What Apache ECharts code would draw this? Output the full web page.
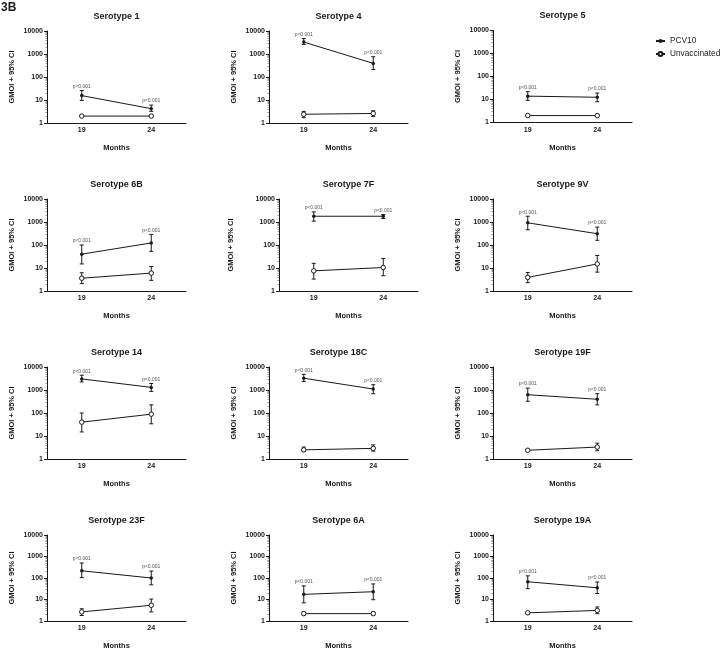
<!DOCTYPE html>
<html><head><meta charset="utf-8">
<script src="https://cdn.jsdelivr.net/npm/echarts@6/dist/echarts.min.js"></script>
<style>html,body{margin:0;padding:0;background:#fff}#c{width:720px;height:651px}</style>
</head><body><div id="c"></div>
<script>
// ---- data ----
const months = ['19', '24'];
const serotypes = ['Serotype 1','Serotype 4','Serotype 5','Serotype 6B','Serotype 7F','Serotype 9V',
  'Serotype 14','Serotype 18C','Serotype 19F','Serotype 23F','Serotype 6A','Serotype 19A'];
const seriesNames = ['PCV10', 'Unvaccinated'];
const pcv10Gmoi = [[15.5,4.2],[3300,390],[14,12.5],[40,123],[1780,1780],[920,310],
  [3030,1300],[3250,1100],[625,395],[217,100],[17.4,23],[67,35]];
const pcv10Low = [[9.6,3.2],[2600,210],[9.2,8],[15,53],[1090,1420],[460,160],
  [2250,870],[2350,690],[323,225],[104,48],[7,9.8],[32,19]];
const pcv10High = [[26,6],[4700,760],[22,19],[100,290],[2750,2100],[1780,600],
  [4400,1920],[4800,1700],[1210,690],[500,210],[43,53],[126,65]];
const unvGmoi = [[2,2],[2.4,2.6],[2,2],[3.6,6],[7.5,10.5],[3.9,15],
  [40,89],[2.5,2.9],[2.4,3.3],[2.65,5.4],[2.2,2.2],[2.4,3.1]];
const unvLow = [[1.9,1.9],[1.7,1.9],[1.9,1.9],[2.1,2.9],[3.3,4.6],[2.3,6.6],
  [15,34],[2.1,2.2],[2.2,2.3],[1.8,2.65],[1.9,1.9],[2.1,2.2]];
const unvHigh = [[2.1,2.1],[3.2,3.4],[2.1,2.1],[6.2,11.6],[16,26],[6.4,35],
  [100,225],[3.3,4.1],[2.6,4.9],[3.7,10.5],[2.6,2.6],[2.7,4.5]];
const pLabels = months.map(() => 'p<0.001');
const yTickLabels = [1, 10, 100, 1000, 10000];
const minorTickValues = [];
for (let d = 1; d < 10000; d *= 10) for (let k = 2; k <= 9; k++) minorTickValues.push(k * d);

// ---- layout ----
const colLeft = [47, 269, 493];
const rowTop = [31, 199, 367, 535];
const gridW = 139, gridH = 92;
const FONT = 'Liberation Sans';
const INK = '#1a1a1a';

const grids = [], xAxes = [], yAxes = [], series = [], graphics = [];
serotypes.forEach((name, i) => {
  const r = Math.floor(i / 3), c = i % 3;
  const left = (i === 4) ? 279 : colLeft[c];
  const top = rowTop[r] + (i === 2 ? -0.5 : 0);
  grids.push({left, top, width: gridW, height: gridH});
  graphics.push({type: 'text', x: left + gridW / 2, y: top - 19,
    style: {text: name, font: 'bold 9px ' + FONT, fill: INK, align: 'center', verticalAlign: 'top'}});
  xAxes.push({type: 'category', gridIndex: i, data: months, boundaryGap: true,
    axisLine: {lineStyle: {color: INK, width: 1}},
    axisTick: {alignWithLabel: true, length: 3, lineStyle: {color: INK}},
    axisLabel: {fontSize: 7, fontWeight: 'bold', color: INK, margin: 4, fontFamily: FONT},
    name: 'Months', nameLocation: 'middle', nameGap: 21,
    nameTextStyle: {fontSize: 7.5, fontWeight: 'bold', color: INK, fontFamily: FONT}});
  yAxes.push({type: 'log', logBase: 10, gridIndex: i, min: 1, max: 10000, position: 'left',
    axisLine: {show: true, lineStyle: {color: INK, width: 1}},
    axisTick: {show: true, length: 3, lineStyle: {color: INK}, customValues: yTickLabels},
    axisLabel: {fontSize: 7, fontWeight: 'bold', color: INK, margin: 4, fontFamily: FONT,
      customValues: yTickLabels, formatter: v => String(Math.round(v))},
    splitLine: {show: false},
    name: 'GMOI + 95% CI', nameLocation: 'middle', nameGap: (i === 4 ? 44 : 31),
    nameTextStyle: {fontSize: 7.5, fontWeight: 'bold', color: INK, fontFamily: FONT}});
  yAxes.push({type: 'log', logBase: 10, gridIndex: i, min: 1, max: 10000, position: 'left', offset: 0,
    axisLine: {show: false},
    axisTick: {show: true, length: 1.5, lineStyle: {color: '#555', width: 0.6}, customValues: minorTickValues},
    axisLabel: {show: false}, splitLine: {show: false}});

  const mkErr = (low, high, withLabel) => ({
    type: 'custom', xAxisIndex: i, yAxisIndex: 2 * i, z: 2, silent: true,
    data: months.map((m, k) => [k, low[i][k], high[i][k]]),
    renderItem: (params, api) => {
      const x = api.value(0);
      const lo = api.coord([x, api.value(1)]);
      const hi = api.coord([x, api.value(2)]);
      const cap = 2;
      const st = {stroke: INK, lineWidth: 1};
      const children = [
        {type: 'line', shape: {x1: lo[0], y1: lo[1], x2: hi[0], y2: hi[1]}, style: st},
        {type: 'line', shape: {x1: lo[0] - cap, y1: lo[1], x2: lo[0] + cap, y2: lo[1]}, style: st},
        {type: 'line', shape: {x1: hi[0] - cap, y1: hi[1], x2: hi[0] + cap, y2: hi[1]}, style: st}
      ];
      if (withLabel) children.push({type: 'text', x: hi[0], y: hi[1] - 1.5,
        style: {text: pLabels[params.dataIndex], font: '5px ' + FONT, fill: '#555', align: 'center', verticalAlign: 'bottom'}});
      return {type: 'group', children};
    }
  });
  series.push(mkErr(pcv10Low, pcv10High, true));
  series.push(mkErr(unvLow, unvHigh, false));
  series.push({type: 'line', name: seriesNames[0], xAxisIndex: i, yAxisIndex: 2 * i, z: 3,
    data: pcv10Gmoi[i], symbol: 'circle', symbolSize: 3.5, showSymbol: true,
    lineStyle: {color: INK, width: 1}, itemStyle: {color: INK}, emphasis: {disabled: true}});
  series.push({type: 'line', name: seriesNames[1], xAxisIndex: i, yAxisIndex: 2 * i, z: 4,
    data: unvGmoi[i], symbol: 'circle', symbolSize: 4.5, showSymbol: true,
    lineStyle: {color: INK, width: 1}, itemStyle: {color: '#fff', borderColor: INK, borderWidth: 1}, emphasis: {disabled: true}});
});

graphics.push({type: 'text', x: 1, y: 2, style: {text: '3B', font: 'bold 12px ' + FONT, fill: INK}});

const chart = echarts.init(document.getElementById('c'), null, {renderer: 'canvas'});
chart.setOption({
  animation: false,
  backgroundColor: '#fff',
  grid: grids, xAxis: xAxes, yAxis: yAxes, series,
  legend: {data: seriesNames, orient: 'vertical', left: 655, top: 37, padding: 0, itemWidth: 9, itemHeight: 5, itemGap: 5,
    textStyle: {fontSize: 8.3, color: INK, fontFamily: FONT}},
  graphic: graphics
});
</script></body></html>
